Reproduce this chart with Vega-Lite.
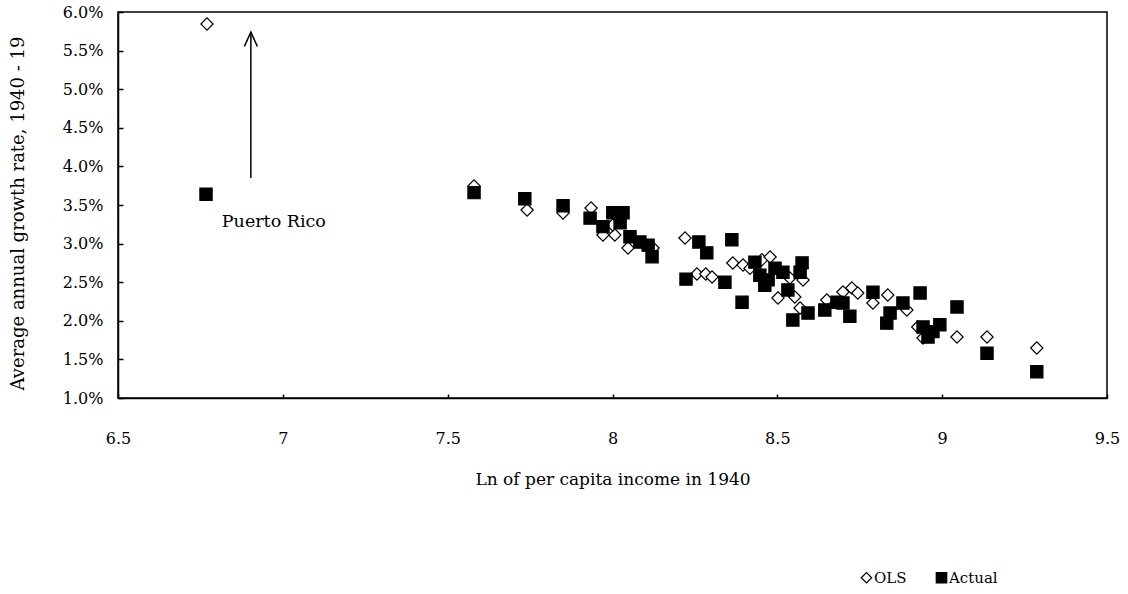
{
  "$schema": "https://vega.github.io/schema/vega-lite/v6.json",
  "width": 989,
  "height": 386,
  "autosize": "none",
  "padding": {"left": 118, "top": 12, "right": 21, "bottom": 196},
  "background": "white",
  "config": {
    "view": {"stroke": "black", "strokeWidth": 1.5},
    "font": "DejaVu Serif",
    "axis": {
      "grid": false,
      "domainColor": "black",
      "domainWidth": 1.5,
      "tickColor": "black",
      "tickWidth": 1.5,
      "labelColor": "black",
      "titleColor": "black",
      "labelFont": "DejaVu Serif",
      "titleFont": "DejaVu Serif",
      "labelFontSize": 16,
      "titleFontWeight": "normal",
      "labelFlush": false,
      "labelOverlap": false
    },
    "legend": {
      "labelFont": "DejaVu Serif",
      "labelFontSize": 15,
      "labelColor": "black"
    }
  },
  "datasets": {
    "points": [
      {"x": 6.770, "y": 0.05845, "series": "OLS"},
      {"x": 7.580, "y": 0.03746, "series": "OLS"},
      {"x": 7.741, "y": 0.03435, "series": "OLS"},
      {"x": 7.850, "y": 0.03396, "series": "OLS"},
      {"x": 7.935, "y": 0.03461, "series": "OLS"},
      {"x": 7.971, "y": 0.03111, "series": "OLS"},
      {"x": 8.007, "y": 0.03111, "series": "OLS"},
      {"x": 8.001, "y": 0.03241, "series": "OLS"},
      {"x": 8.047, "y": 0.02943, "series": "OLS"},
      {"x": 8.123, "y": 0.02943, "series": "OLS"},
      {"x": 8.220, "y": 0.03073, "series": "OLS"},
      {"x": 8.256, "y": 0.02606, "series": "OLS"},
      {"x": 8.283, "y": 0.02606, "series": "OLS"},
      {"x": 8.302, "y": 0.02567, "series": "OLS"},
      {"x": 8.365, "y": 0.02749, "series": "OLS"},
      {"x": 8.396, "y": 0.02723, "series": "OLS"},
      {"x": 8.417, "y": 0.02680, "series": "OLS"},
      {"x": 8.453, "y": 0.02790, "series": "OLS"},
      {"x": 8.478, "y": 0.02826, "series": "OLS"},
      {"x": 8.538, "y": 0.02554, "series": "OLS"},
      {"x": 8.578, "y": 0.02528, "series": "OLS"},
      {"x": 8.502, "y": 0.02295, "series": "OLS"},
      {"x": 8.553, "y": 0.02308, "series": "OLS"},
      {"x": 8.569, "y": 0.02166, "series": "OLS"},
      {"x": 8.650, "y": 0.02269, "series": "OLS"},
      {"x": 8.699, "y": 0.02373, "series": "OLS"},
      {"x": 8.726, "y": 0.02425, "series": "OLS"},
      {"x": 8.744, "y": 0.02360, "series": "OLS"},
      {"x": 8.790, "y": 0.02231, "series": "OLS"},
      {"x": 8.835, "y": 0.02334, "series": "OLS"},
      {"x": 8.893, "y": 0.02140, "series": "OLS"},
      {"x": 8.926, "y": 0.01920, "series": "OLS"},
      {"x": 8.942, "y": 0.01777, "series": "OLS"},
      {"x": 9.045, "y": 0.01790, "series": "OLS"},
      {"x": 9.136, "y": 0.01790, "series": "OLS"},
      {"x": 9.287, "y": 0.01648, "series": "OLS"},
      {"x": 6.767, "y": 0.0364, "series": "Actual"},
      {"x": 7.580, "y": 0.0366, "series": "Actual"},
      {"x": 7.734, "y": 0.0358, "series": "Actual"},
      {"x": 7.850, "y": 0.0349, "series": "Actual"},
      {"x": 7.932, "y": 0.0333, "series": "Actual"},
      {"x": 7.971, "y": 0.0322, "series": "Actual"},
      {"x": 8.001, "y": 0.0340, "series": "Actual"},
      {"x": 8.032, "y": 0.0340, "series": "Actual"},
      {"x": 8.023, "y": 0.0327, "series": "Actual"},
      {"x": 8.053, "y": 0.0309, "series": "Actual"},
      {"x": 8.083, "y": 0.0302, "series": "Actual"},
      {"x": 8.108, "y": 0.0298, "series": "Actual"},
      {"x": 8.120, "y": 0.0283, "series": "Actual"},
      {"x": 8.223, "y": 0.0254, "series": "Actual"},
      {"x": 8.262, "y": 0.0302, "series": "Actual"},
      {"x": 8.286, "y": 0.0288, "series": "Actual"},
      {"x": 8.362, "y": 0.0305, "series": "Actual"},
      {"x": 8.341, "y": 0.0250, "series": "Actual"},
      {"x": 8.393, "y": 0.0224, "series": "Actual"},
      {"x": 8.432, "y": 0.0276, "series": "Actual"},
      {"x": 8.447, "y": 0.0259, "series": "Actual"},
      {"x": 8.472, "y": 0.0253, "series": "Actual"},
      {"x": 8.493, "y": 0.0268, "series": "Actual"},
      {"x": 8.517, "y": 0.0263, "series": "Actual"},
      {"x": 8.462, "y": 0.0246, "series": "Actual"},
      {"x": 8.575, "y": 0.0275, "series": "Actual"},
      {"x": 8.569, "y": 0.0263, "series": "Actual"},
      {"x": 8.532, "y": 0.0240, "series": "Actual"},
      {"x": 8.547, "y": 0.0201, "series": "Actual"},
      {"x": 8.593, "y": 0.0210, "series": "Actual"},
      {"x": 8.644, "y": 0.0214, "series": "Actual"},
      {"x": 8.681, "y": 0.0224, "series": "Actual"},
      {"x": 8.699, "y": 0.0223, "series": "Actual"},
      {"x": 8.720, "y": 0.0206, "series": "Actual"},
      {"x": 8.790, "y": 0.0237, "series": "Actual"},
      {"x": 8.881, "y": 0.0223, "series": "Actual"},
      {"x": 8.842, "y": 0.0210, "series": "Actual"},
      {"x": 8.832, "y": 0.0197, "series": "Actual"},
      {"x": 8.933, "y": 0.0236, "series": "Actual"},
      {"x": 8.942, "y": 0.0192, "series": "Actual"},
      {"x": 8.972, "y": 0.0186, "series": "Actual"},
      {"x": 8.993, "y": 0.0195, "series": "Actual"},
      {"x": 8.957, "y": 0.0179, "series": "Actual"},
      {"x": 9.045, "y": 0.0218, "series": "Actual"},
      {"x": 9.136, "y": 0.0158, "series": "Actual"},
      {"x": 9.287, "y": 0.0134, "series": "Actual"}
    ],
    "arrow": [
      {"x": 6.903, "y": 0.0385, "y2": 0.0574}
    ],
    "arrowhead": [
      {"x": 6.903, "y": 0.0574}
    ],
    "labels": [
      {"x": 6.815, "y": 0.0328, "label": "Puerto Rico"}
    ]
  },
  "encoding": {
    "x": {
      "field": "x",
      "type": "quantitative",
      "scale": {"domain": [6.5, 9.5], "nice": false, "zero": false},
      "axis": {
        "values": [6.5, 7, 7.5, 8, 8.5, 9, 9.5],
        "format": "~f",
        "tickSize": -4,
        "labelPadding": 36,
        "labelOverlap": false,
        "title": "Ln of per capita income in 1940",
        "titleFontSize": 17,
        "titleY": 81,
        "titleBaseline": "middle"
      }
    },
    "y": {
      "field": "y",
      "type": "quantitative",
      "scale": {"domain": [0.01, 0.06], "nice": false, "zero": false},
      "axis": {
        "values": [0.01, 0.015, 0.02, 0.025, 0.03, 0.035, 0.04, 0.045, 0.05, 0.055, 0.06],
        "format": ".1%",
        "tickSize": -5,
        "labelPadding": 20,
        "labelOverlap": false,
        "labelSeparation": 0,
        "title": "Average annual growth rate, 1940 - 19",
        "titleFontSize": 18,
        "titleX": -100,
        "titleY": 201,
        "titleAngle": -90,
        "titleAlign": "center",
        "titleBaseline": "middle"
      }
    }
  },
  "layer": [
    {
      "data": {"name": "points"},
      "mark": {"type": "point", "filled": true, "strokeWidth": 1.2, "opacity": 1, "size": 150},
      "encoding": {
        "shape": {
          "field": "series",
          "type": "nominal",
          "scale": {"domain": ["OLS", "Actual"], "range": ["diamond", "square"]},
          "legend": {"title": null, "orient": "none", "legendX": 741, "legendY": 558, "direction": "horizontal", "columnPadding": 26, "labelOffset": 0, "symbolSize": 110, "symbolStrokeWidth": 1.2}
        },
        "fill": {
          "field": "series",
          "type": "nominal",
          "scale": {"domain": ["OLS", "Actual"], "range": ["white", "black"]},
          "legend": {"title": null, "orient": "none", "legendX": 741, "legendY": 558, "direction": "horizontal", "columnPadding": 26, "labelOffset": 0, "symbolSize": 110, "symbolStrokeWidth": 1.2}
        },
        "stroke": {
          "field": "series",
          "type": "nominal",
          "scale": {"domain": ["OLS", "Actual"], "range": ["black", "black"]},
          "legend": {"title": null, "orient": "none", "legendX": 741, "legendY": 558, "direction": "horizontal", "columnPadding": 26, "labelOffset": 0, "symbolSize": 110, "symbolStrokeWidth": 1.2}
        }
      }
    },
    {
      "data": {"name": "arrow"},
      "mark": {"type": "rule", "color": "black", "strokeWidth": 1.5},
      "encoding": {
        "y2": {"field": "y2"}
      }
    },
    {
      "data": {"name": "arrowhead"},
      "mark": {"type": "point", "shape": "M-0.5,1.1L0,0L0.5,1.1", "size": 676, "filled": false, "stroke": "black", "strokeWidth": 1.5, "opacity": 1},
      "encoding": {}
    },
    {
      "data": {"name": "labels"},
      "mark": {"type": "text", "align": "left", "baseline": "middle", "font": "DejaVu Serif", "fontSize": 17.5, "color": "black"},
      "encoding": {
        "text": {"field": "label"}
      }
    }
  ]
}
